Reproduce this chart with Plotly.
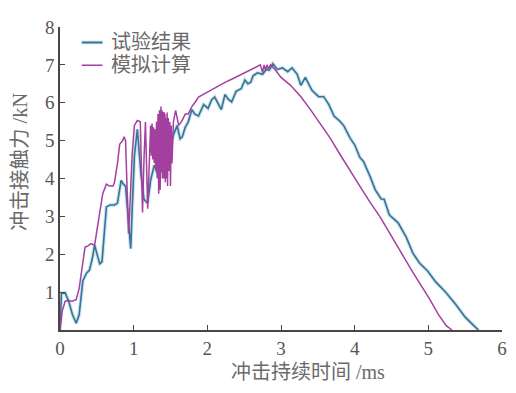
import plotly.graph_objects as go

# 试验结果 (experimental)
exp_t = [0, 0.02, 0.07, 0.12, 0.17, 0.22, 0.26, 0.31, 0.36, 0.40, 0.44, 0.47, 0.51, 0.54, 0.57,
         0.60, 0.63, 0.68, 0.74, 0.78, 0.83, 0.86, 0.89, 0.92, 0.94, 0.96, 0.98, 1.01, 1.05, 1.08,
         1.10, 1.14, 1.19, 1.23, 1.28, 1.33, 1.39, 1.43, 1.48, 1.54, 1.59, 1.63, 1.66, 1.70, 1.74,
         1.79, 1.83, 1.88, 1.95, 2.01, 2.06, 2.10, 2.14, 2.19, 2.24, 2.28, 2.33, 2.39, 2.46, 2.51,
         2.55, 2.59, 2.62, 2.68, 2.75, 2.80, 2.84, 2.89, 2.95, 3.02, 3.09, 3.15, 3.22, 3.27, 3.33,
         3.42, 3.51, 3.58, 3.65, 3.72, 3.79, 3.85, 3.94, 4.00, 4.07, 4.12, 4.21, 4.28, 4.36, 4.40,
         4.47, 4.59, 4.70, 4.79, 4.88, 4.99, 5.10, 5.23, 5.37, 5.50, 5.60, 5.68]
exp_f = [0, 0.97, 0.98, 0.75, 0.40, 0.18, 0.40, 1.30, 1.50, 1.58, 1.90, 2.24, 1.95, 1.75, 1.80,
         2.60, 3.25, 3.30, 3.30, 3.35, 3.95, 3.85, 3.80, 3.10, 2.50, 2.15, 3.20, 4.60, 5.30, 4.50,
         4.10, 3.45, 3.35, 3.95, 4.35, 4.10, 4.22, 4.47, 4.64, 5.15, 5.40, 5.05, 5.10, 5.35, 5.49,
         5.82, 5.70, 5.65, 5.95, 5.85, 6.08, 6.15, 6.00, 5.82, 6.22, 6.10, 6.02, 6.30, 6.37, 6.60,
         6.50, 6.54, 6.71, 6.79, 6.75, 6.88, 6.86, 7.03, 6.88, 6.92, 6.82, 6.92, 6.75, 6.46, 6.67,
         6.33, 6.16, 6.16, 5.95, 5.65, 5.53, 5.40, 5.06, 4.89, 4.56, 4.45, 4.05, 3.70, 3.46, 3.45,
         3.04, 2.83, 2.45, 2.03, 1.77, 1.56, 1.27, 1.01, 0.68, 0.34, 0.15, 0.0]

# 模拟计算 (simulation)
sim_t = [0, 0.03, 0.07, 0.12, 0.16, 0.22, 0.26, 0.29, 0.34, 0.38, 0.42, 0.47, 0.50, 0.54, 0.58,
         0.63, 0.67, 0.72, 0.74, 0.78, 0.81, 0.85, 0.87, 0.89, 0.91, 0.93, 0.95, 0.98, 1.01, 1.05,
         1.09, 1.12, 1.14, 1.16, 1.19, 1.21, 1.23, 1.24, 1.25, 1.26, 1.27, 1.28, 1.29, 1.30, 1.31,
         1.32, 1.33, 1.34, 1.35, 1.36, 1.37, 1.38, 1.385, 1.39, 1.395, 1.40, 1.405, 1.41, 1.415,
         1.42, 1.425, 1.43, 1.435, 1.44, 1.445, 1.45, 1.455, 1.46, 1.47, 1.48, 1.49, 1.50, 1.51,
         1.52, 1.54, 1.57, 1.61, 1.65, 1.70, 1.74, 1.79, 1.83, 1.88, 1.97, 2.06, 2.15, 2.24, 2.33,
         2.42, 2.51, 2.59, 2.66, 2.72, 2.75, 2.77, 2.79, 2.81, 2.83, 2.86, 2.93, 3.00, 3.13, 3.27,
         3.40, 3.54, 3.67, 3.80, 3.94, 4.07, 4.21, 4.34, 4.56, 4.79, 5.01, 5.14, 5.24, 5.32]
sim_f = [0, 0.50, 0.76, 0.78, 0.76, 0.80, 1.10, 1.52, 2.19, 2.22, 2.28, 2.24, 2.60, 3.10, 3.60,
         3.85, 3.80, 3.80, 3.90, 4.40, 4.90, 5.00, 5.10, 5.00, 3.50, 2.55, 3.30, 4.64, 5.40, 5.53,
         5.50, 3.10, 4.50, 5.49, 3.20, 4.40, 5.40, 4.60, 5.45, 4.50, 5.35, 4.40, 5.30, 4.20, 5.50,
         4.00, 5.70, 3.60, 5.80, 3.70, 5.90, 4.20, 5.80, 4.00, 5.75, 4.10, 5.70, 4.00, 5.75,
         4.10, 5.70, 3.90, 5.60, 4.00, 5.70, 4.10, 5.74, 3.80, 5.60, 4.20, 5.50, 3.80, 5.40,
         4.40, 5.50, 5.80, 5.40, 5.50, 5.70, 5.70, 5.90, 6.00, 6.15, 6.25, 6.35, 6.45, 6.54, 6.62,
         6.71, 6.80, 6.88, 6.95, 7.00, 6.80, 7.00, 6.85, 7.00, 6.90, 7.00, 6.85, 6.67, 6.46, 6.16,
         5.82, 5.44, 5.06, 4.64, 4.22, 3.80, 3.37, 3.00, 2.28, 1.52, 0.84, 0.40, 0.12, 0.0]

x_ticks = [0, 1, 2, 3, 4, 5, 6]
y_ticks = [1, 2, 3, 4, 5, 6, 7, 8]

series_names = ["试验结果", "模拟计算"]
x_title = "冲击持续时间 /ms"
y_title = "冲击接触力 /kN"

BLUE = "#3d7190"
HALO = "rgba(130,195,228,0.45)"
PURPLE = "#a3409f"
TEXT = "#6a6a6a"
TICK = "#555555"
AXIS = "#4a4646"
FONT = "Liberation Serif, Noto Sans CJK SC, serif"

# page body has an 8px margin: plot area spans page px x 60..507, y 17..330
PX0, PX1, PY0, PY1 = 60, 507, 330, 17


def px(x):
    return (x - PX0) / (PX1 - PX0)


def py(y):
    return (PY0 - y) / (PY0 - PY1)


fig = go.Figure()
fig.add_trace(go.Scatter(x=exp_t, y=exp_f, mode="lines", showlegend=False, hoverinfo="skip",
                         line=dict(color=HALO, width=3.8)))
fig.add_trace(go.Scatter(x=exp_t, y=exp_f, mode="lines", name=series_names[0], showlegend=False,
                         line=dict(color=BLUE, width=1.6)))
fig.add_trace(go.Scatter(x=sim_t, y=sim_f, mode="lines", name=series_names[1], showlegend=False,
                         line=dict(color=PURPLE, width=1.5)))

legend_rows = [(33, BLUE, 1.9), (56.5, PURPLE, 1.5)]
LX0, LX1, LT = 82, 103, 110
shapes = []
annotations = []
for (ry, col, w), name in zip(legend_rows, series_names):
    if col == BLUE:
        shapes.append(dict(type="line", xref="paper", yref="paper", x0=px(LX0), x1=px(LX1),
                           y0=py(ry), y1=py(ry), line=dict(color=HALO, width=3.8)))
    shapes.append(dict(type="line", xref="paper", yref="paper", x0=px(LX0), x1=px(LX1),
                       y0=py(ry), y1=py(ry), line=dict(color=col, width=w)))
    annotations.append(dict(text=name, xref="paper", yref="paper", x=px(LT), y=py(ry),
                            xanchor="left", yanchor="middle", showarrow=False,
                            font=dict(size=20, color=TEXT)))

annotations += [
    dict(text=x_title, xref="paper", yref="paper", x=px(311), y=py(373),
         xanchor="center", yanchor="middle", showarrow=False, font=dict(size=20, color=TEXT)),
    dict(text=y_title, xref="paper", yref="paper", x=px(19), y=py(156),
         xanchor="center", yanchor="middle", showarrow=False, textangle=-90,
         font=dict(size=20.5, color=TEXT)),
]

fig.update_layout(
    width=508, height=385,
    margin=dict(l=52, r=9, t=9, b=63),
    paper_bgcolor="#ffffff", plot_bgcolor="#ffffff",
    font=dict(family=FONT, color=TEXT, size=16),
    showlegend=False,
    xaxis=dict(range=[0, 6], tickvals=x_ticks, ticks="inside", ticklen=5, tickwidth=1.3,
               tickcolor=AXIS, showline=True, linecolor=AXIS, linewidth=1.6,
               showgrid=False, zeroline=False, ticklabeloverflow="allow",
               tickfont=dict(size=19, color=TICK)),
    yaxis=dict(range=[0, 8], tickvals=y_ticks, ticks="inside", ticklen=5, tickwidth=1.3,
               tickcolor=AXIS, showline=True, linecolor=AXIS, linewidth=1.6,
               showgrid=False, zeroline=False, ticklabeloverflow="allow",
               tickfont=dict(size=19, color=TICK)),
    shapes=shapes,
    annotations=annotations,
)

fig.write_html("out.html")
